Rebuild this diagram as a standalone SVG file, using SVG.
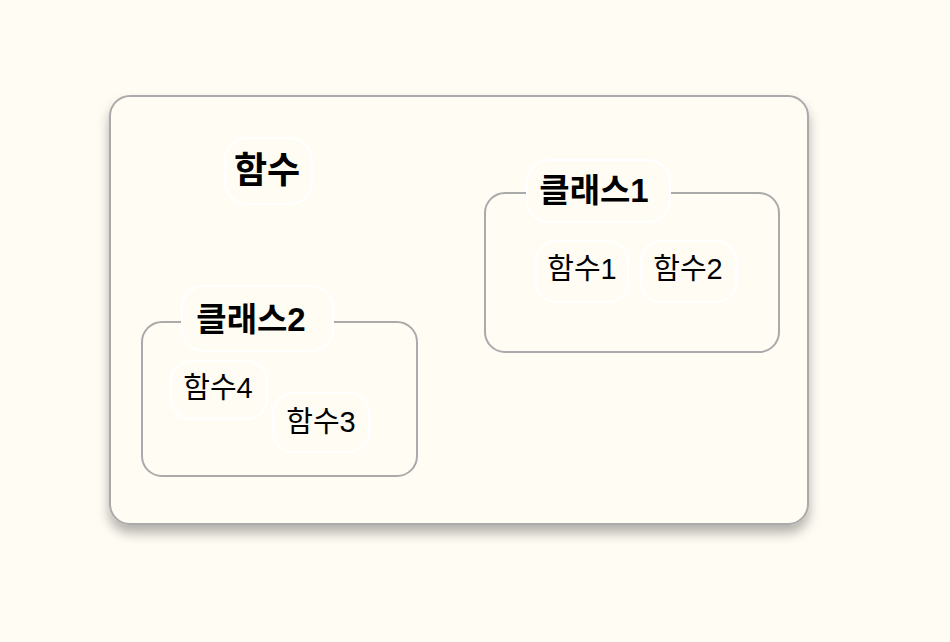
<svg xmlns="http://www.w3.org/2000/svg" width="950" height="642" viewBox="0 0 950 642">
<defs>
<style>
.bg{fill:#fffcf4}
.outer{fill:#fffcf4;stroke:#aaaaaa;stroke-width:2}
.grp{fill:none;stroke:#aaaaaa;stroke-width:2}
.pill{fill:#fffcf4;stroke:#ffffff;stroke-width:2}
.t{font-family:"Liberation Sans","Noto Sans CJK KR",sans-serif;fill:#000;text-anchor:middle;dominant-baseline:central}
.b{font-weight:bold}
</style>
<filter id="sh" x="-10%" y="-10%" width="120%" height="130%">
<feDropShadow dx="0" dy="8" stdDeviation="6" flood-color="#000" flood-opacity="0.3"/>
</filter>
</defs>
<rect class="bg" x="0" y="0" width="950" height="642"/>
<g id="frame">
<rect class="outer" x="110" y="96" width="698" height="428" rx="20" filter="url(#sh)"/>
</g>
<g id="class1">
<rect class="grp" x="485" y="193" width="294" height="159" rx="20"/>
<rect class="pill" x="527" y="160" width="143" height="62" rx="22"/>
<text class="t b" x="594" y="190" font-size="33">클래스1</text>
</g>
<g id="class2">
<rect class="grp" x="142" y="322" width="275" height="154" rx="20"/>
<rect class="pill" x="182" y="286" width="151" height="65" rx="22"/>
<text class="t b" x="251" y="319" font-size="33">클래스2</text>
</g>
<g id="func">
<rect class="pill" x="225" y="138" width="87" height="66" rx="22"/>
<text class="t b" x="267" y="170" font-size="36">함수</text>
</g>
<g id="func1">
<rect class="pill" x="536" y="241" width="92" height="61" rx="20"/>
<text class="t" x="582" y="269" font-size="29">함수1</text>
</g>
<g id="func2">
<rect class="pill" x="641" y="241" width="95" height="61" rx="20"/>
<text class="t" x="688" y="269" font-size="29">함수2</text>
</g>
<g id="func4">
<rect class="pill" x="171" y="361" width="96" height="58" rx="20"/>
<text class="t" x="218" y="388" font-size="29">함수4</text>
</g>
<g id="func3">
<rect class="pill" x="273" y="393" width="96" height="59" rx="20"/>
<text class="t" x="321" y="422" font-size="29">함수3</text>
</g>
<g id="connectors"></g>
</svg>
